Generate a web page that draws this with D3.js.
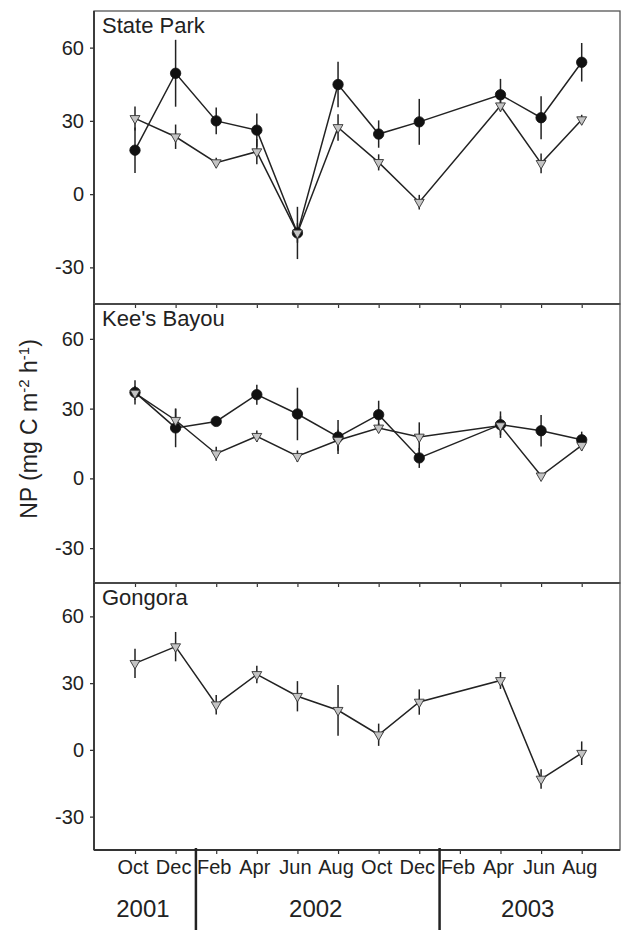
<!DOCTYPE html>
<html><head><meta charset="utf-8">
<script src="https://cdn.jsdelivr.net/npm/d3@7"></script>
<style>
body{margin:0;background:#fff}
svg{display:block;font-family:"Liberation Sans",Arial,Helvetica,sans-serif}
</style>
</head><body>
<svg id="chart" width="622" height="930"></svg>
<script>
// ---------------- DATA ----------------
const months = ["Oct","Dec","Feb","Apr","Jun","Aug","Oct","Dec","Feb","Apr","Jun","Aug"];
const monthYears = [2001,2001,2002,2002,2002,2002,2002,2002,2003,2003,2003,2003];
const years = [2001,2002,2003];
const yTicks = [60,30,0,-30];
const sites = ["State Park","Kee's Bayou","Gongora"];

// State Park
const spCircle    = [18, 49.5, 30, 26.2, -15.9, 44.9, 24.6, 29.6, null, 40.7, 31.3, 54];
const spCircleErr = [9.3, 13.7, 5.5, 6.8, 10.7, 9.3, 5.6, 9.4, null, 6.5, 8.8, 7.9];
const spTri       = [31, 23.5, 12.9, 17.4, -15.9, 27.3, 13, -3.3, null, 36.2, 12.6, 30.5];
const spTriErr    = [4.9, 5, 2, 5.2, 4, 5.4, 3.3, 3, null, 2.5, 4, 2];
// Kee's Bayou
const kbCircle    = [37, 21.7, 24.5, 36, 27.7, 17.8, 27.4, 8.8, null, 23.1, 20.5, 16.6];
const kbCircleErr = [5.2, 8.3, 2, 4.3, 11.3, 7.3, 6, 4.3, null, 5.7, 6.8, 3.5];
const kbTri       = [36.7, 25, 10.6, 18.1, 9.5, 16.4, 21.7, 17.8, null, 22.7, 1.1, 14.2];
const kbTriErr    = [3, 5, 3, 2.5, 2.5, 4.5, 2, 6.3, null, 4, 1, 2.3];
// Gongora
const goTri       = [38.9, 46.4, 20.3, 33.9, 24.1, 17.8, 6.8, 21.5, null, 31.2, -13.1, -1.5];
const goTriErr    = [6.6, 6.6, 4.4, 3.9, 6.8, 11.4, 5, 5.7, null, 3.8, 4.4, 5.3];

const panelSeries = [
  [{type:"circle", values:spCircle, errs:spCircleErr},{type:"triangle", values:spTri, errs:spTriErr}],
  [{type:"circle", values:kbCircle, errs:kbCircleErr},{type:"triangle", values:kbTri, errs:kbTriErr}],
  [{type:"triangle", values:goTri, errs:goTriErr}]
];

// ---------------- LAYOUT ----------------
const svg = d3.select("#chart");
const left = 94, right = 620;
const panelEdges = [11, 304, 583, 850];
const ink = "#222";

const keys = months.map((m,i)=>m+" "+monthYears[i]);
const x = d3.scalePoint().domain(keys).range([135, 581.7]);

sites.forEach((site, p) => {
  const top = panelEdges[p], bottom = panelEdges[p+1];
  const y = d3.scaleLinear().domain([-45,75]).range([bottom, top]);
  const g = svg.append("g");

  // box
  g.append("rect").attr("x",left).attr("y",top).attr("width",right-left).attr("height",bottom-top)
    .attr("fill","none").attr("stroke","#555").attr("stroke-width",1.3);
  g.append("line").attr("x1",left).attr("x2",left).attr("y1",top).attr("y2",bottom)
    .attr("stroke","#333").attr("stroke-width",1.8);
  g.append("line").attr("x1",left).attr("x2",right).attr("y1",bottom).attr("y2",bottom)
    .attr("stroke","#333").attr("stroke-width",1.8);

  // y axis
  const ya = g.append("g").attr("transform",`translate(${left},0)`)
    .call(d3.axisLeft(y).tickValues(yTicks).tickSize(4).tickPadding(6).tickFormat(d=>String(d)));
  ya.select(".domain").remove();
  ya.selectAll(".tick line").attr("stroke","#333").attr("stroke-width",1.3);
  ya.selectAll(".tick text").attr("font-size",20).attr("fill",ink)
    .attr("font-family","'Liberation Sans',Arial,Helvetica,sans-serif");

  // x ticks
  const xa = g.append("g").attr("transform",`translate(0,${bottom})`)
    .call(d3.axisBottom(x).tickSize(4).tickFormat(""));
  xa.select(".domain").remove();
  xa.selectAll(".tick line").attr("stroke","#333").attr("stroke-width",1.2);

  // site label
  g.append("text").attr("x",left+8).attr("y",top+22).attr("font-size",22).attr("fill",ink).text(site);

  const seriesPts = panelSeries[p].map(s => ({
    type: s.type,
    pts: s.values.map((v,i)=>({x:x(keys[i]), v, e:s.errs[i]})).filter(d=>d.v!=null)
  }));

  const line = d3.line().x(d=>d.x).y(d=>y(d.v));
  seriesPts.forEach(s => {
    g.append("path").attr("d",line(s.pts)).attr("fill","none").attr("stroke",ink).attr("stroke-width",1.5);
  });
  seriesPts.forEach(s => {
    g.selectAll(null).data(s.pts).join("line")
      .attr("x1",d=>d.x).attr("x2",d=>d.x)
      .attr("y1",d=>y(d.v+d.e)).attr("y2",d=>y(d.v-d.e))
      .attr("stroke",ink).attr("stroke-width",1.5);
  });
  seriesPts.filter(s=>s.type==="circle").forEach(s => {
    g.selectAll(null).data(s.pts).join("circle")
      .attr("cx",d=>d.x).attr("cy",d=>y(d.v)).attr("r",5.2)
      .attr("fill","#111").attr("stroke","#111").attr("stroke-width",0.8);
  });
  const tri = d3.symbol().type(d3.symbolTriangle).size(42);
  seriesPts.filter(s=>s.type==="triangle").forEach(s => {
    g.selectAll(null).data(s.pts).join("path")
      .attr("d",tri)
      .attr("transform",d=>`translate(${d.x},${y(d.v)}) rotate(180)`)
      .attr("fill","#c4c4c4").attr("stroke","#333").attr("stroke-width",0.9);
  });
});

// month labels
const axisY = panelEdges[3];
svg.append("g").selectAll("text").data(keys).join("text")
  .attr("x",d=>x(d)-2).attr("y",axisY+24).attr("text-anchor","middle")
  .attr("font-size",20).attr("fill",ink).text((d,i)=>months[i]);

// year separators & labels
const sepXs = [];
for (let i=1;i<keys.length;i++){
  if (monthYears[i]!==monthYears[i-1]) sepXs.push((x(keys[i-1])+x(keys[i]))/2);
}
svg.append("g").selectAll("line").data(sepXs).join("line")
  .attr("x1",d=>d).attr("x2",d=>d).attr("y1",axisY-2).attr("y2",930)
  .attr("stroke",ink).attr("stroke-width",2.5);
const bounds = [left, ...sepXs, right];
svg.append("g").selectAll("text").data(years).join("text")
  .attr("x",(d,i)=>(bounds[i]+bounds[i+1])/2-2).attr("y",axisY+67)
  .attr("text-anchor","middle").attr("font-size",24).attr("fill",ink).text(d=>d);

// y title
const yt = svg.append("text")
  .attr("transform","translate(37,429) rotate(-90)")
  .attr("text-anchor","middle").attr("font-size",23).attr("fill",ink);
yt.append("tspan").text("NP (mg C m");
yt.append("tspan").attr("dy",-8).attr("font-size",15).text("-2");
yt.append("tspan").attr("dy",8).text(" h");
yt.append("tspan").attr("dy",-8).attr("font-size",15).text("-1");
yt.append("tspan").attr("dy",8).text(")");
</script>
</body></html>
